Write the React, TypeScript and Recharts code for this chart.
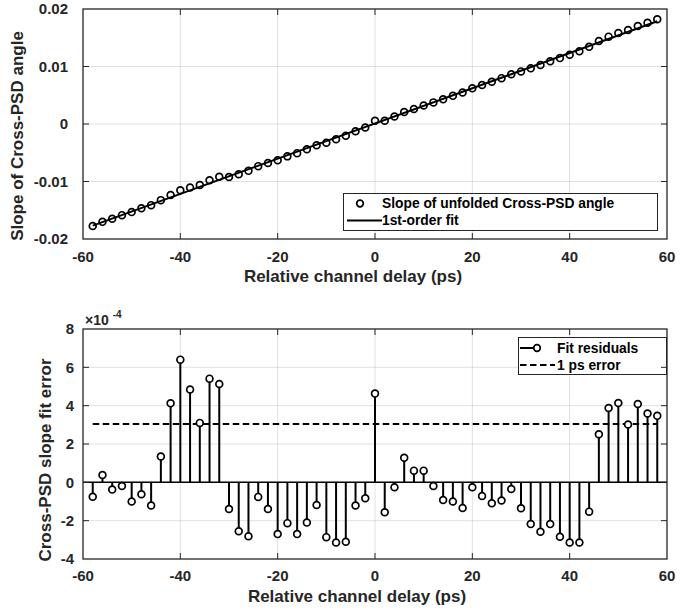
import React from "react";
import {
  ComposedChart,
  Scatter,
  Line,
  XAxis,
  YAxis,
  ReferenceLine,
  ErrorBar,
  Legend,
} from "recharts";

// relative channel delay (ps)
const delays = [
  -58, -56, -54, -52, -50, -48, -46, -44, -42, -40, -38, -36, -34, -32, -30,
  -28, -26, -24, -22, -20, -18, -16, -14, -12, -10, -8, -6, -4, -2, 0, 2, 4, 6,
  8, 10, 12, 14, 16, 18, 20, 22, 24, 26, 28, 30, 32, 34, 36, 38, 40, 42, 44, 46,
  48, 50, 52, 54, 56, 58,
];

// slope of unfolded cross-PSD angle
const slopeValues = [
  -0.01774, -0.01702, -0.01648, -0.01585, -0.01532, -0.01466, -0.01411,
  -0.01324, -0.01235, -0.01151, -0.01106, -0.01062, -0.00977, -0.00919,
  -0.00923, -0.00873, -0.00815, -0.00733, -0.00678, -0.0063, -0.00563,
  -0.00507, -0.0044, -0.00369, -0.00325, -0.00266, -0.00205, -0.00125,
  -0.0006, 0.00056, 0.00056, 0.0013, 0.00207, 0.00261, 0.00322, 0.00376,
  0.0043, 0.0049, 0.00548, 0.0062, 0.00677, 0.00734, 0.00797, 0.00864,
  0.00915, 0.00968, 0.01026, 0.01091, 0.01146, 0.01204, 0.01265, 0.01342,
  0.01444, 0.01519, 0.01583, 0.01633, 0.01705, 0.01761, 0.01821,
];

// 1st-order fit end points
const fitDelays = [-58, 58];
const fitValues = [-0.01767, 0.01786];

// fit residuals, x 1e-4
const residuals = [
  -0.75, 0.38, -0.38, -0.19, -1.0, -0.62, -1.21, 1.35, 4.13, 6.4, 4.84, 3.1,
  5.41, 5.13, -1.39, -2.55, -2.81, -0.76, -1.39, -2.7, -2.13, -2.7, -2.1,
  -1.18, -2.86, -3.14, -3.1, -1.21, -0.83, 4.63, -1.56, -0.26, 1.28, 0.61,
  0.61, -0.19, -0.92, -1.0, -1.34, -0.26, -0.71, -1.09, -0.95, -0.35, -1.35,
  -2.18, -2.58, -2.18, -2.84, -3.14, -3.14, -1.53, 2.51, 3.88, 4.14, 3.02,
  4.09, 3.59, 3.47,
];

// 1 ps error level, x 1e-4
const errorDelays = [-58, 58];
const errorLevel = [3.05, 3.05];

const xTicks = [-60, -40, -20, 0, 20, 40, 60];
const topYTicks = [-0.02, -0.01, 0, 0.01, 0.02];
const bottomYTicks = [-4, -2, 0, 2, 4, 6, 8];

const slopeData = delays.map((x, i) => ({ x, y: slopeValues[i] }));
const fitData = fitDelays.map((x, i) => ({ x, y: fitValues[i] }));
const residualData = delays.map((x, i) => ({
  x,
  y: residuals[i],
  err: residuals[i] > 0 ? [residuals[i], 0] : [0, -residuals[i]],
}));
const errorData = errorDelays.map((x, i) => ({ x, y: errorLevel[i] }));

type Pt = { x: number; y: number | null };

// light grid as one broken polyline (null = pen up)
function gridData(yTicks: number[]) {
  const x0 = xTicks[0];
  const x1 = xTicks[xTicks.length - 1];
  const y0 = yTicks[0];
  const y1 = yTicks[yTicks.length - 1];
  const grid: Pt[] = [];
  xTicks.slice(1, -1).forEach((v) => {
    grid.push({ x: v, y: y0 }, { x: v, y: y1 }, { x: v, y: null });
  });
  yTicks.slice(1, -1).forEach((v) => {
    grid.push({ x: x0, y: v }, { x: x1, y: v }, { x: x1, y: null });
  });
  return grid;
}

const topGrid = gridData(topYTicks);
const bottomGrid = gridData(bottomYTicks);

const FONT = '"Liberation Sans", Arial, Helvetica, sans-serif';
const AXIS = "#262626";
const TICK_LEN = 6;
const CHART_W = 699;
const CHART_H = 300;
const PLOT_LEFT = 83;
const PLOT_RIGHT_GAP = 32;
const tickStyle = { fill: AXIS, fontSize: 15, fontWeight: 700, fontFamily: FONT };
const titleProps = {
  fill: AXIS,
  fontSize: 17,
  fontWeight: 700,
  fontFamily: FONT,
  textAnchor: "middle" as const,
};

const xTitle = (dx: number) => (props: any) => {
  const vb = props.viewBox;
  return (
    <text x={vb.x + vb.width / 2 + dx} y={vb.y + 43} {...titleProps}>
      Relative channel delay (ps)
    </text>
  );
};

const yTitle = (text: string, bx: number, dy: number) => (props: any) => {
  const vb = props.viewBox;
  const cy = vb.y + vb.height / 2 + dy;
  return (
    <text transform={`translate(${bx},${cy}) rotate(-90)`} x={0} y={0} {...titleProps}>
      {text}
    </text>
  );
};

// axes box with inward ticks, laid over the plot area of one chart
function Frame({ top, height, yTicks }: { top: number; height: number; yTicks: number[] }) {
  const left = PLOT_LEFT;
  const width = CHART_W - PLOT_LEFT - PLOT_RIGHT_GAP;
  const xa = xTicks[0];
  const xb = xTicks[xTicks.length - 1];
  const ya = yTicks[0];
  const yb = yTicks[yTicks.length - 1];
  const sx = (v: number) => left + ((v - xa) / (xb - xa)) * width;
  const sy = (v: number) => top + height - ((v - ya) / (yb - ya)) * height;
  return (
    <svg
      width={CHART_W}
      height={CHART_H}
      style={{ position: "absolute", left: 0, top: 0, pointerEvents: "none" }}
    >
      <g stroke={AXIS} strokeWidth={1}>
        {xTicks.slice(1, -1).map((v) => (
          <g key={"x" + v}>
            <line x1={sx(v)} x2={sx(v)} y1={top} y2={top + TICK_LEN} />
            <line x1={sx(v)} x2={sx(v)} y1={top + height - TICK_LEN} y2={top + height} />
          </g>
        ))}
        {yTicks.slice(1, -1).map((v) => (
          <g key={"y" + v}>
            <line x1={left} x2={left + TICK_LEN} y1={sy(v)} y2={sy(v)} />
            <line x1={left + width - TICK_LEN} x2={left + width} y1={sy(v)} y2={sy(v)} />
          </g>
        ))}
      </g>
      <rect x={left} y={top} width={width} height={height} fill="none" stroke={AXIS} strokeWidth={1.3} />
    </svg>
  );
}

const Circle = (props: any) => (
  <circle cx={props.cx} cy={props.cy} r={3.4} fill="none" stroke="#000" strokeWidth={1.7} />
);

const StemHead = (props: any) => (
  <circle cx={props.cx} cy={props.cy} r={3.4} fill="#fff" stroke="#000" strokeWidth={1.7} />
);

const TopLegend = () => (
  <svg width={315} height={38} style={{ display: "block" }}>
    <rect x={0.5} y={0.5} width={314} height={37} fill="#fff" stroke={AXIS} />
    <circle cx={17} cy={10.5} r={3.3} fill="none" stroke="#000" strokeWidth={1.7} />
    <text x={39} y={15} fontSize={13.8} fontWeight={700} fontFamily={FONT} fill="#000">
      Slope of unfolded Cross-PSD angle
    </text>
    <line x1={4} x2={39} y1={27.5} y2={27.5} stroke="#000" strokeWidth={2} />
    <text x={39} y={32} fontSize={13.8} fontWeight={700} fontFamily={FONT} fill="#000">
      1st-order fit
    </text>
  </svg>
);

const BottomLegend = () => (
  <svg width={149} height={38} style={{ display: "block" }}>
    <rect x={0.5} y={0.5} width={148} height={37} fill="#fff" stroke={AXIS} />
    <line x1={2} x2={18} y1={11} y2={11} stroke="#000" strokeWidth={2} />
    <circle cx={19} cy={11} r={3.3} fill="#fff" stroke="#000" strokeWidth={1.7} />
    <text x={39} y={15.5} fontSize={13.8} fontWeight={700} fontFamily={FONT} fill="#000">
      Fit residuals
    </text>
    <line x1={2} x2={37} y1={28} y2={28} stroke="#000" strokeWidth={2} strokeDasharray="6.5 3.5" />
    <text x={39} y={32.5} fontSize={13.8} fontWeight={700} fontFamily={FONT} fill="#000">
      1 ps error
    </text>
  </svg>
);

export default function App() {
  return (
    <div
      style={{
        position: "absolute",
        left: 0,
        top: 0,
        width: 699,
        height: 610,
        background: "#fff",
        fontFamily: FONT,
      }}
    >
      <div style={{ position: "absolute", left: 0, top: 0, width: CHART_W, height: CHART_H }}>
        <ComposedChart
          width={CHART_W}
          height={CHART_H}
          margin={{ top: 9, right: PLOT_RIGHT_GAP, bottom: 0, left: 0 }}
        >
          <XAxis
            xAxisId="b"
            dataKey="x"
            type="number"
            domain={[-60, 60]}
            ticks={xTicks}
            height={61}
            axisLine={false}
            tickLine={false}
            tickSize={0}
            tickMargin={12}
            tick={tickStyle}
            label={{ content: xTitle(-22) }}
          />
          <YAxis
            yAxisId="l"
            dataKey="y"
            type="number"
            domain={[-0.02, 0.02]}
            ticks={topYTicks}
            width={PLOT_LEFT}
            axisLine={false}
            tickLine={false}
            tickSize={0}
            tickMargin={15}
            tick={tickStyle}
            label={{ content: yTitle("Slope of Cross-PSD angle", 23, 12) }}
          />
          <Line
            xAxisId="b"
            yAxisId="l"
            data={topGrid}
            dataKey="y"
            stroke="#000"
            strokeOpacity={0.12}
            strokeWidth={1}
            dot={false}
            activeDot={false}
            isAnimationActive={false}
          />
          <Scatter xAxisId="b" yAxisId="l" data={slopeData} shape={Circle} isAnimationActive={false} />
          <Line
            xAxisId="b"
            yAxisId="l"
            data={fitData}
            dataKey="y"
            stroke="#000"
            strokeWidth={2}
            dot={false}
            isAnimationActive={false}
          />
          <Legend
            content={TopLegend}
            layout="horizontal"
            verticalAlign="middle"
            align="center"
            wrapperStyle={{ position: "absolute", left: 343, top: 193, width: 315, height: 38 }}
          />
        </ComposedChart>
        <Frame top={9} height={230} yTicks={topYTicks} />
      </div>

      <div style={{ position: "absolute", left: 0, top: 310, width: CHART_W, height: CHART_H }}>
        <ComposedChart
          width={CHART_W}
          height={CHART_H}
          margin={{ top: 19, right: PLOT_RIGHT_GAP, bottom: 0, left: 0 }}
        >
          <XAxis
            xAxisId="b"
            dataKey="x"
            type="number"
            domain={[-60, 60]}
            ticks={xTicks}
            height={51}
            axisLine={false}
            tickLine={false}
            tickSize={0}
            tickMargin={11}
            tick={tickStyle}
            label={{ content: xTitle(-18) }}
          />
          <YAxis
            yAxisId="l"
            dataKey="y"
            type="number"
            domain={[-4, 8]}
            ticks={bottomYTicks}
            width={PLOT_LEFT}
            axisLine={false}
            tickLine={false}
            tickSize={0}
            tickMargin={9}
            tick={tickStyle}
            label={{ content: yTitle("Cross-PSD slope fit error", 51, 16) }}
          />
          <Line
            xAxisId="b"
            yAxisId="l"
            data={bottomGrid}
            dataKey="y"
            stroke="#000"
            strokeOpacity={0.12}
            strokeWidth={1}
            dot={false}
            activeDot={false}
            isAnimationActive={false}
          />
          <ReferenceLine xAxisId="b" yAxisId="l" y={0} stroke="#000" strokeWidth={1.5} />
          <Line
            xAxisId="b"
            yAxisId="l"
            data={errorData}
            dataKey="y"
            stroke="#000"
            strokeWidth={2}
            strokeDasharray="6.5 3.5"
            dot={false}
            isAnimationActive={false}
          />
          <Scatter xAxisId="b" yAxisId="l" data={residualData} shape={StemHead} isAnimationActive={false}>
            <ErrorBar
              dataKey="err"
              direction="y"
              width={0}
              stroke="#000"
              strokeWidth={2}
              isAnimationActive={false}
            />
          </Scatter>
          <Legend
            content={BottomLegend}
            layout="horizontal"
            verticalAlign="middle"
            align="center"
            wrapperStyle={{ position: "absolute", left: 518, top: 27, width: 149, height: 38 }}
          />
        </ComposedChart>
        <Frame top={19} height={230} yTicks={bottomYTicks} />
      </div>

      <div
        style={{
          position: "absolute",
          left: 85,
          top: 312,
          fontSize: 14,
          fontWeight: 700,
          color: AXIS,
          whiteSpace: "nowrap",
        }}
      >
        ×10
        <span style={{ fontSize: 10, position: "relative", top: -7, marginLeft: 4 }}>-4</span>
      </div>
    </div>
  );
}
